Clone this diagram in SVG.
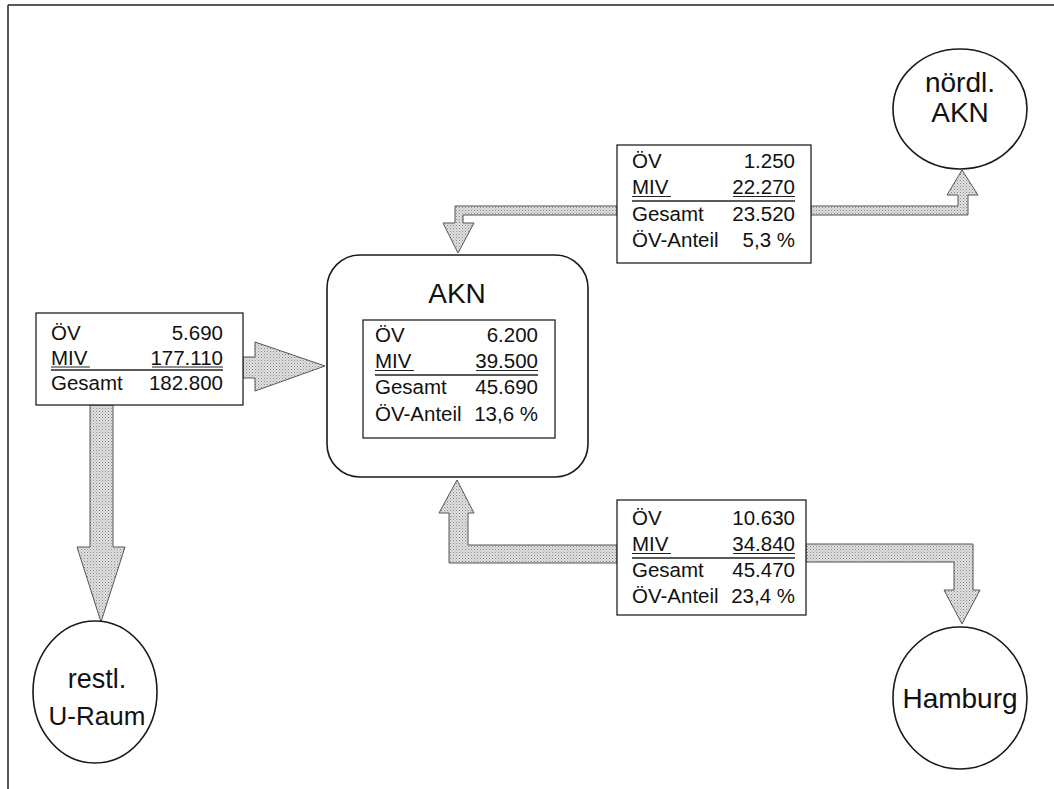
<svg xmlns="http://www.w3.org/2000/svg" width="1054" height="789" viewBox="0 0 1054 789">
  <defs>
    <pattern id="stip" width="3" height="3" patternUnits="userSpaceOnUse">
      <rect width="3" height="3" fill="#e0e0e0"/>
      <rect x="0" y="0" width="1" height="1" fill="#888"/>
      <rect x="1.5" y="1.5" width="1" height="1" fill="#a4a4a4"/>
    </pattern>
  </defs>
  <style>
    .frame { stroke: #222; stroke-width: 1.5; fill: none; }
    .box { fill: #fff; stroke: #222; stroke-width: 1.3; }
    .node { fill: #fff; stroke: #1a1a1a; stroke-width: 1.6; }
    .arrow { fill: url(#stip); stroke: #555; stroke-width: 1; stroke-linejoin: miter; }
    .t { font-family: "Liberation Sans", Arial, sans-serif; font-size: 20.5px; fill: #111; }
    .r { text-anchor: end; }
    .big { font-family: "Liberation Sans", Arial, sans-serif; font-size: 28px; fill: #111; text-anchor: middle; }
    .ul { stroke: #222; stroke-width: 1; }
    .rule { stroke: #222; stroke-width: 1.5; }
  </style>
  <rect width="1054" height="789" fill="#fff"/>
  <g id="frame">
    <line class="frame" x1="8" y1="5" x2="1054" y2="5"/>
    <line class="frame" x1="8" y1="5" x2="8" y2="789"/>
  </g>

  <g id="connectors">
    <polygon class="arrow" points="243,357 255,357 255,342 325,366 255,391 255,378 243,378"/>
    <polygon class="arrow" points="90,405 113,405 113,547 125,547 101,622 77,547 90,547"/>
    <polygon class="arrow" points="617,206 455,206 455,223 443,223 458,253 474,223 463,223 463,215 617,215"/>
    <polygon class="arrow" points="811,206 958,206 958,195 947,195 962,170 978,195 968,195 968,215 811,215"/>
    <polygon class="arrow" points="617,545 468,545 468,513 474,513 457,480 439,513 449,513 449,563 617,563"/>
    <polygon class="arrow" points="806,544 973,544 973,590 980,590 962,624 944,590 954,590 954,562 806,562"/>
  </g>

  <g id="box-left">
    <rect class="box" x="36" y="313" width="207" height="92"/>
    <text class="t" x="51" y="340">ÖV</text>
    <text class="t r" x="223" y="340">5.690</text>
    <text class="t" x="51" y="365">MIV</text>
    <text class="t r" x="223" y="365">177.110</text>
    <line class="ul" x1="51" y1="367" x2="90" y2="367"/>
    <line class="ul" x1="152" y1="367" x2="223" y2="367"/>
    <line class="rule" x1="51" y1="370" x2="223" y2="370"/>
    <text class="t" x="51" y="390">Gesamt</text>
    <text class="t r" x="223" y="390">182.800</text>
  </g>

  <g id="node-akn">
    <rect class="node" x="327" y="255" width="261" height="222" rx="33" ry="33"/>
    <text class="big" x="457" y="303">AKN</text>
    <rect class="box" x="363" y="320" width="192" height="118"/>
    <text class="t" x="375" y="342">ÖV</text>
    <text class="t r" x="538" y="342">6.200</text>
    <text class="t" x="375" y="368">MIV</text>
    <text class="t r" x="538" y="368">39.500</text>
    <line class="ul" x1="375" y1="370.5" x2="414" y2="370.5"/>
    <line class="ul" x1="476" y1="370.5" x2="538" y2="370.5"/>
    <line class="rule" x1="375" y1="375" x2="538" y2="375"/>
    <text class="t" x="375" y="394">Gesamt</text>
    <text class="t r" x="538" y="394">45.690</text>
    <text class="t" x="375" y="421">ÖV-Anteil</text>
    <text class="t r" x="538" y="421">13,6 %</text>
  </g>

  <g id="box-top">
    <rect class="box" x="617" y="145" width="194" height="118"/>
    <text class="t" x="632" y="168">ÖV</text>
    <text class="t r" x="795" y="168">1.250</text>
    <text class="t" x="632" y="194">MIV</text>
    <text class="t r" x="795" y="194">22.270</text>
    <line class="ul" x1="632" y1="196.5" x2="671" y2="196.5"/>
    <line class="ul" x1="733" y1="196.5" x2="795" y2="196.5"/>
    <line class="rule" x1="632" y1="201" x2="795" y2="201"/>
    <text class="t" x="632" y="221">Gesamt</text>
    <text class="t r" x="795" y="221">23.520</text>
    <text class="t" x="632" y="247">ÖV-Anteil</text>
    <text class="t r" x="795" y="247">5,3 %</text>
  </g>

  <g id="box-bottom">
    <rect class="box" x="617" y="500" width="189" height="115"/>
    <text class="t" x="632" y="525">ÖV</text>
    <text class="t r" x="795" y="525">10.630</text>
    <text class="t" x="632" y="551">MIV</text>
    <text class="t r" x="795" y="551">34.840</text>
    <line class="ul" x1="632" y1="553.5" x2="671" y2="553.5"/>
    <line class="ul" x1="733" y1="553.5" x2="795" y2="553.5"/>
    <line class="rule" x1="632" y1="558" x2="795" y2="558"/>
    <text class="t" x="632" y="577">Gesamt</text>
    <text class="t r" x="795" y="577">45.470</text>
    <text class="t" x="632" y="603">ÖV-Anteil</text>
    <text class="t r" x="795" y="603">23,4 %</text>
  </g>

  <g id="node-noerdl">
    <ellipse class="node" cx="960" cy="109" rx="67" ry="60"/>
    <text class="big" x="960" y="92">nördl.</text>
    <text class="big" x="960" y="122">AKN</text>
  </g>

  <g id="node-hamburg">
    <ellipse class="node" cx="960" cy="698" rx="67" ry="71"/>
    <text class="big" x="960" y="708">Hamburg</text>
  </g>

  <g id="node-restl">
    <ellipse class="node" cx="95" cy="692" rx="62" ry="71"/>
    <text class="big" x="97" y="688" style="font-size:27px">restl.</text>
    <text class="big" x="97" y="725" style="font-size:26px">U-Raum</text>
  </g>
</svg>
